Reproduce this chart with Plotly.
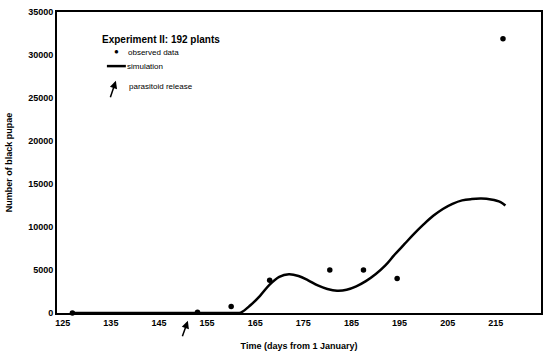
import plotly.graph_objects as go

obs_days = [127, 153, 160, 168, 180.5, 187.5, 194.5, 216.5]
obs_pupae = [0, 100, 750, 3800, 5000, 5000, 4000, 31900]

sim_days = [127, 135, 145, 155, 160, 161, 162, 164, 166, 168, 170, 172, 174, 176, 178, 180,
            182, 184, 186, 188, 190, 192, 194, 196, 198, 200, 202, 204, 206, 208, 210, 212,
            214, 216, 217]
sim_pupae = [0, 0, 0, 0, 0, 0, 50, 900, 2000, 3300, 4200, 4500, 4300, 3800, 3200, 2800,
             2600, 2700, 3100, 3700, 4500, 5500, 6800, 8000, 9200, 10300, 11300, 12100,
             12700, 13100, 13250, 13300, 13200, 12900, 12500]

x_ticks = [125, 135, 145, 155, 165, 175, 185, 195, 205, 215, 225]
y_ticks = [0, 5000, 10000, 15000, 20000, 25000, 30000, 35000]
release_day = 151

font = "Liberation Sans, Arial, sans-serif"

fig = go.Figure()
fig.add_trace(go.Scatter(x=sim_days, y=sim_pupae, mode="lines", line=dict(color="black", width=2.5, shape="spline"), showlegend=False))
fig.add_trace(go.Scatter(x=obs_days, y=obs_pupae, mode="markers", marker=dict(color="black", size=5.5), showlegend=False, cliponaxis=False))

fig.update_layout(
    width=550, height=359,
    margin=dict(l=57, r=8, t=7, b=46),
    paper_bgcolor="white", plot_bgcolor="white",
    font=dict(family=font, color="black", size=9),
    xaxis=dict(range=[123.8, 224.4], tickvals=x_ticks, ticktext=["<b>%d</b>" % v for v in x_ticks],
               showline=True, linecolor="black", linewidth=2, mirror=True, showgrid=False,
               zeroline=False, ticks="", tickfont=dict(size=9, family=font),
               title=dict(text="<b>Time (days from 1 January)</b>", font=dict(size=9, family=font), standoff=16)),
    yaxis=dict(range=[0, 35000], tickvals=y_ticks, ticktext=["<b>%d</b>" % v for v in y_ticks],
               showline=True, linecolor="black", linewidth=2, mirror=True, showgrid=False,
               zeroline=False, ticks="", tickfont=dict(size=9, family=font),
               title=dict(text="<b>Number of black pupae</b>", font=dict(size=9, family=font), standoff=14)),
)

# Legend-like annotations
fig.add_annotation(xref="paper", yref="paper", x=(100-57)/485, y=(313-35)/306, xanchor="left", yanchor="middle",
                   text="<b>Experiment II: 192 plants</b>", showarrow=False, font=dict(size=10, family=font))
fig.add_annotation(xref="paper", yref="paper", x=(112-57)/485, y=(313-47)/306, xanchor="left", yanchor="middle",
                   text="\u25cf", showarrow=False, font=dict(size=8, family=font))
fig.add_annotation(xref="paper", yref="paper", x=(126-57)/485, y=(313-48)/306, xanchor="left", yanchor="middle",
                   text="observed data", showarrow=False, font=dict(size=8, family=font))
fig.add_shape(type="line", xref="paper", yref="paper", x0=(107-57)/485, x1=(126-57)/485,
              y0=(313-62)/306, y1=(313-62)/306, line=dict(color="black", width=2.5))
fig.add_annotation(xref="paper", yref="paper", x=(125-57)/485, y=(313-62)/306, xanchor="left", yanchor="middle",
                   text="simulation", showarrow=False, font=dict(size=8, family=font))
fig.add_annotation(xref="paper", yref="paper", x=(116-57)/485, y=(313-77)/306, ax=-6, ay=18,
                   text="", showarrow=True, arrowhead=2, arrowsize=1, arrowwidth=1.5, arrowcolor="black")
fig.add_annotation(xref="paper", yref="paper", x=(127-57)/485, y=(313-83)/306, xanchor="left", yanchor="middle",
                   text="parasitoid release", showarrow=False, font=dict(size=8, family=font))

# Parasitoid release arrow below the axis
fig.add_annotation(xref="x", yref="paper", x=release_day, y=-(321-313)/306, ax=-6, ay=17,
                   text="", showarrow=True, arrowhead=2, arrowsize=1, arrowwidth=1.5, arrowcolor="black")

fig.write_html("out.html")
